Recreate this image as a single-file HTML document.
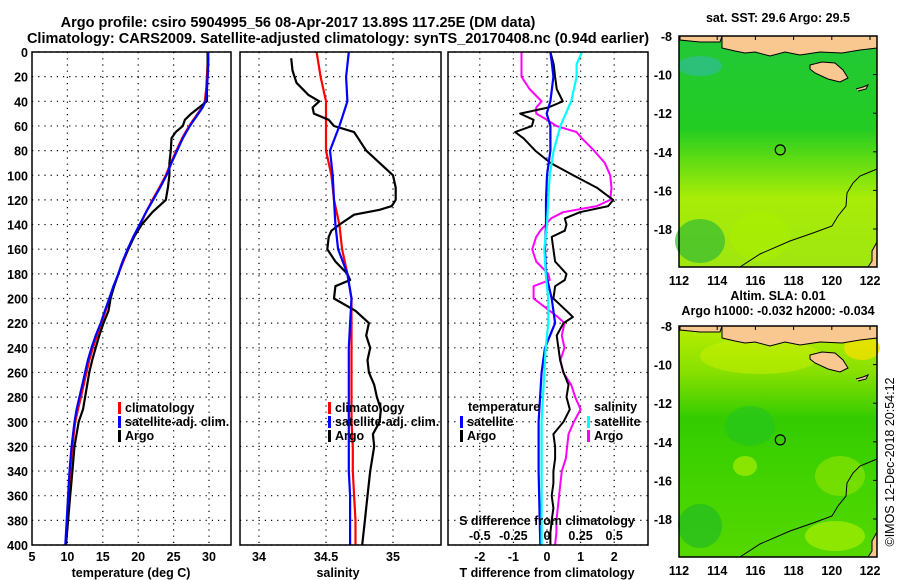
<!DOCTYPE html>
<html><head><meta charset="utf-8">
<style>
html,body{margin:0;padding:0;background:#fff;}
svg{display:block;font-family:"Liberation Sans",sans-serif;font-weight:bold;}
</style></head>
<body>
<svg id="chart" width="900" height="580" viewBox="0 0 900 580" xmlns="http://www.w3.org/2000/svg">
<text x="298" y="27" font-size="14.5" text-anchor="middle">Argo profile: csiro 5904995_56 08-Apr-2017 13.89S 117.25E (DM data)</text>
<text x="338" y="43" font-size="14.5" text-anchor="middle">Climatology: CARS2009. Satellite-adjusted climatology: synTS_20170408.nc (0.94d earlier)</text>
<g id="g"></g>
</svg>
<script>
// ---- data ----
const tDepth = [0,10,20,30,40,45,50,55,60,65,70,80,90,100,110,120,130,140,150,160,170,180,190,200,210,220,230,240,250,260,270,280,290,300,320,340,360,380,400];
const tArgo  = [29.8,29.8,29.8,29.7,29.7,28.6,27.5,26.6,26.3,25.3,24.7,24.6,24.4,24.4,24.2,23.9,22.0,20.5,19.4,18.6,17.8,17.2,16.6,16.1,15.8,15.1,14.5,14.0,13.5,13.1,12.8,12.5,12.2,11.6,11.0,10.7,10.4,10.1,9.8];
const tClim  = [29.8,29.8,29.7,29.6,29.4,29.0,28.4,27.8,27.2,26.7,26.2,25.4,24.6,23.9,23.0,22.0,21.1,20.3,19.4,18.6,17.9,17.2,16.6,16.0,15.4,14.8,14.2,13.6,13.1,12.7,12.3,11.9,11.5,11.1,10.7,10.4,10.2,10.0,9.8];
const tSat   = [29.9,29.9,29.8,29.7,29.5,29.1,28.5,27.9,27.3,26.8,26.3,25.5,24.7,24.0,23.1,22.1,21.1,20.2,19.3,18.5,17.8,17.2,16.5,15.9,15.3,14.7,14.0,13.4,12.9,12.5,12.1,11.7,11.3,11.0,10.6,10.3,10.1,9.9,9.7];

const sDepth = [5,15,25,35,40,45,50,55,60,65,70,80,90,100,110,120,125,128,132,140,145,150,160,170,180,185,190,200,210,220,230,240,250,260,270,280,290,300,310,320,340,360,380,400];
const sArgo  = [34.24,34.25,34.28,34.37,34.45,34.40,34.41,34.52,34.56,34.71,34.74,34.80,34.90,35.00,35.02,35.02,34.99,34.90,34.71,34.60,34.54,34.52,34.51,34.57,34.66,34.68,34.57,34.56,34.72,34.82,34.80,34.83,34.81,34.82,34.86,34.88,34.91,34.90,34.85,34.86,34.83,34.81,34.79,34.77];
const cDepth = [0,20,40,60,80,100,120,140,160,180,200,220,240,260,280,300,320,340,360,380,400];
const sClim  = [34.43,34.46,34.50,34.50,34.50,34.54,34.56,34.60,34.62,34.66,34.69,34.69,34.69,34.69,34.69,34.69,34.70,34.70,34.71,34.72,34.72];
const sSat   = [34.67,34.65,34.66,34.60,34.53,34.55,34.56,34.57,34.59,34.66,34.69,34.68,34.67,34.67,34.67,34.67,34.67,34.67,34.68,34.68,34.68];

const dDepth = [0,10,20,30,40,45,50,55,60,65,70,80,90,100,110,120,125,130,135,140,145,150,160,170,180,185,190,200,210,215,220,230,240,250,260,270,280,290,300,310,320,330,340,350,360,370,380,390,400];
const tDiffArgo = [0.1,0.2,0.24,0.29,0.47,0.04,-0.8,-0.4,-0.45,-0.95,-0.7,-0.35,0.1,0.78,1.48,1.97,1.82,0.98,0.53,0.58,0.53,0.14,0.19,0.24,0.58,0.53,0.24,0.19,0.58,0.77,0.49,0.29,0.34,0.39,0.49,0.64,0.58,0.68,0.49,0.19,0.24,0.24,0.19,0.19,0.14,0.19,0.14,0.1,0.1];
const sDiffArgo = [-0.19,-0.19,-0.19,-0.13,-0.04,-0.08,-0.08,0.0,0.07,0.22,0.26,0.35,0.43,0.47,0.48,0.47,0.37,0.12,0.03,-0.01,-0.05,-0.08,-0.11,-0.08,0.01,0.02,-0.1,-0.1,0.02,0.08,0.13,0.11,0.13,0.1,0.12,0.18,0.21,0.25,0.2,0.16,0.15,0.14,0.11,0.1,0.09,0.08,0.07,0.07,0.06];
const sdDepth = [0,10,20,40,50,60,80,100,120,140,160,180,200,220,240,260,300,340,400];
const tDiffSat = [0.1,0.15,0.19,0.1,-0.01,0.1,0.1,0.0,-0.03,-0.03,-0.06,-0.03,0.14,0.24,-0.06,-0.16,-0.25,-0.25,-0.2];
const sDiffSat = [0.26,0.22,0.22,0.18,0.14,0.1,0.05,0.02,0.01,0.0,-0.02,-0.01,0.01,0.01,-0.01,-0.02,-0.04,-0.04,-0.04];

const depthTicks = [0,20,40,60,80,100,120,140,160,180,200,220,240,260,280,300,320,340,360,380,400];
const tTicks = [5,10,15,20,25,30];
const sTicks = [34,34.5,35];
const dTicks = [-2,-1,0,1,2];
const sdTicks = [-0.5,-0.25,0,0.25,0.5];
const latTicks = [-8,-10,-12,-14,-16,-18];
const lonTicks = [112,114,116,118,120,122];

// ---- axes ----
const Y0=52, Y1=545;
const yD = d => Y0 + d*(Y1-Y0)/400;
const xT = t => 32 + (t-5)*7.08;
const xS = s => 259 + (s-34)*134;
const xTD = v => 547 + v*33.6;
const xSD = v => 547 + v*134.4;
const NS="http://www.w3.org/2000/svg";
const G=document.getElementById('g');
function el(tag,attrs,parent){const e=document.createElementNS(NS,tag);for(const k in attrs)e.setAttribute(k,attrs[k]);(parent||G).appendChild(e);return e;}
function txt(x,y,s,size,anchor,parent){const t=el('text',{x:x,y:y,'font-size':size,'text-anchor':anchor||'middle'},parent);t.textContent=s;return t;}

function panel(name,bx0,bx1,vgrid,fx){
  const g=el('g',{});
  
  
  depthTicks.forEach(d=>{const l=el('line',{x1:bx0,x2:bx1,y1:yD(d),y2:yD(d),stroke:'#000','stroke-width':1.2,'stroke-dasharray':'1.2,5'},g);
    
    
  });
  vgrid.forEach(v=>{const x=fx(v);const l=el('line',{x1:x,x2:x,y1:Y0,y2:Y1,stroke:'#000','stroke-width':1.2,'stroke-dasharray':'1.2,5'},g);
    
    
  });
  return g;
}
function line(g,xs,ds,fx,color,w,name){
  const p=el('polyline',{points:xs.map((v,i)=>fx(v).toFixed(1)+','+yD(ds[i]).toFixed(1)).join(' '),fill:'none',stroke:color,'stroke-width':w,'stroke-linejoin':'round'},g);
  
  
}
function box(g,x0,x1){const r=el('rect',{x:x0,y:Y0,width:x1-x0,height:Y1-Y0,fill:'none',stroke:'#000','stroke-width':1.5},g);
  
  }
function legItem(g,x,y,color,label){
  const r=el('rect',{x:x,y:y-10,width:3,height:12,fill:color},g);
  
  
  const t=txt(x+7,y,label,12.5,'start',g);
  
  
}

// Panel 1
const p1=panel('temperature-panel',32,231,[10,15,20,25,30],xT);
line(p1,tClim,tDepth,xT,'#f00',2.2,'climatology-temperature-line');
line(p1,tArgo,tDepth,xT,'#000',2.2,'argo-temperature-line');
line(p1,tSat,tDepth,xT,'#00f',2.2,'satellite-temperature-line');
box(p1,32,231);
depthTicks.forEach(d=>{const t=txt(28,yD(d)+5,String(d),12.5,'end',p1);
  
  });
tTicks.forEach(v=>{const t=txt(xT(v),561,String(v),12.5,'middle',p1);
  
  });
{const t=txt(131,577,'temperature (deg C)',12.5,'middle',p1);}
legItem(p1,118,412,'#f00','climatology');
legItem(p1,118,426,'#00f','satellite-adj. clim.');
legItem(p1,118,440,'#000','Argo');

// Panel 2
const p2=panel('salinity-panel',240,441,[34,34.5,35],xS);
line(p2,sClim,cDepth,xS,'#f00',2.2,'climatology-salinity-line');
line(p2,sArgo,sDepth,xS,'#000',2.2,'argo-salinity-line');
line(p2,sSat,cDepth,xS,'#00f',2.2,'satellite-salinity-line');
box(p2,240,441);
sTicks.forEach(v=>{const t=txt(xS(v),561,String(v),12.5,'middle',p2);
  
  });
{const t=txt(338,577,'salinity',12.5,'middle',p2);}
legItem(p2,328,412,'#f00','climatology');
legItem(p2,328,426,'#00f','satellite-adj. clim.');
legItem(p2,328,440,'#000','Argo');

// Panel 3
const p3=panel('difference-panel',448,648,[-2,-1,0,1,2],xTD);
line(p3,sDiffArgo,dDepth,xSD,'#f0f',2,'argo-salinity-difference-line');
line(p3,tDiffArgo,dDepth,xTD,'#000',2,'argo-temperature-difference-line');
line(p3,tDiffSat,sdDepth,xTD,'#00f',2.2,'satellite-temperature-difference-line');
line(p3,sDiffSat,sdDepth,xSD,'#0ff',2.2,'satellite-salinity-difference-line');
box(p3,448,648);
dTicks.forEach(v=>{const t=txt(xTD(v),561,String(v),12.5,'middle',p3);
  
  });
sdTicks.forEach(v=>{const t=txt(xSD(v),540,String(v),12.5,'middle',p3);
  
  });
{const t=txt(547,525,'S difference from climatology',12.5,'middle',p3);}
{const t=txt(547,577,'T difference from climatology',12.5,'middle',p3);}
{const t=txt(468,411,'temperature',12.5,'start',p3);}
{const t=txt(594,411,'salinity',12.5,'start',p3);}
legItem(p3,460,426,'#00f','satellite');
legItem(p3,460,440,'#000','Argo');
legItem(p3,587,426,'#0ff','satellite');
legItem(p3,587,440,'#f0f','Argo');

// ---- Maps ----
const MX0=679, MX1=877;
const lonX = lo => 679 + (lo-112)*19.1;
function makeMap(name,top,bgTop,bgBot,blobs){
  const g=el('g',{});
  
  
  const latY = la => top + (-8-la)*19.3;
  const id='grad'+top;
  const defs=el('defs',{},g);
  const lg=el('linearGradient',{id:id,x1:0,y1:0,x2:0,y2:1},defs);
  bgTop.forEach((c,i)=>el('stop',{offset:c[0],'stop-color':c[1]},lg));
  const bg=el('rect',{x:MX0,y:top,width:MX1-MX0,height:231,fill:'url(#'+id+')'},g);
  
  
  blobs.forEach(b=>el('ellipse',{cx:b[0],cy:top+b[1],rx:b[2],ry:b[3],fill:b[4],opacity:b[5]},g));
  // land
  const P=(pts)=>pts.map(p=>p[0]+','+(top+p[1])).join(' ');
  const land=[
    [[722,0],[877,0],[877,12],[860,14],[842,17],[820,16],[800,19],[785,16],[770,20],[755,16],[745,17],[735,15],[722,12]],
    [[680,0],[722,0],[720,6],[700,6],[680,4]],
    [[810,29],[822,26],[835,27],[843,34],[848,42],[840,46],[828,43],[815,37],[810,33]],
    [[877,206],[872,215],[872,225],[868,231],[877,231]]
  ];
  land.forEach(l=>{const p=el('polygon',{points:P(l),fill:'#f9c891',stroke:'#000','stroke-width':1},g);
    
    });
  el('polyline',{points:P([[740,231],[760,218],[790,205],[813,197],[832,190],[838,180],[846,170],[847,157],[853,147],[860,140],[877,133]]),fill:'none',stroke:'#000','stroke-width':1},g);
  el('polyline',{points:P([[856,53],[863,51],[868,49],[866,53],[858,55]]),fill:'#f9c891',stroke:'#000','stroke-width':1},g);
  const c=el('circle',{cx:lonX(117.3),cy:latY(-13.9),r:5,fill:'none',stroke:'#000','stroke-width':1.2},g);
  
  
  const fr=el('rect',{x:MX0,y:top,width:MX1-MX0,height:231,fill:'none',stroke:'#000','stroke-width':1.5},g);
  
  
  latTicks.forEach(la=>{const t=txt(672,latY(la)+5,String(la),12.5,'end',g);
    
    
    el('line',{x1:MX1-4,x2:MX1,y1:latY(la),y2:latY(la),stroke:'#000'},g);});
  lonTicks.forEach(lo=>{const t=txt(lonX(lo),top+249,String(lo),12.5,'middle',g);
    
    
    el('line',{x1:lonX(lo),x2:lonX(lo),y1:top,y2:top+4,stroke:'#000'},g);});
}
makeMap('sst-map',36,[[0,'#22c838'],[0.4,'#22cc22'],[0.55,'#66dd11'],[0.7,'#a8ec08'],[1,'#a0e610']],[],
  [[700,205,25,22,'#33bb33',0.7],[760,200,30,25,'#aaee00',0.6],[700,30,22,10,'#33bbaa',0.6]]);
makeMap('sla-map',326,[[0,'#b8ee00'],[0.2,'#88e000'],[0.4,'#33cc00'],[0.7,'#44d400'],[1,'#55d800']],[],
  [[862,22,18,12,'#f0e000',0.8],[700,200,22,22,'#22bb22',0.7],[750,100,25,20,'#22c422',0.6],[745,140,12,10,'#aaee00',0.7],[840,150,25,20,'#88e200',0.7],[835,210,30,15,'#a8ee00',0.7],[760,30,60,18,'#ccf000',0.5]]);

{const t=txt(778,22,'sat. SST: 29.6 Argo: 29.5',12.5);}
{const t=txt(778,300,'Altim. SLA: 0.01',12.5);}
{const t=txt(778,315,'Argo h1000: -0.032 h2000: -0.034',12.5);}
{const t=txt(0,0,'\u00a9IMOS 12-Dec-2018 20:54:12',12.5,'middle');t.setAttribute('transform','translate(894,462) rotate(-90)');t.setAttribute('font-weight','normal');}
</script>
</body></html>
